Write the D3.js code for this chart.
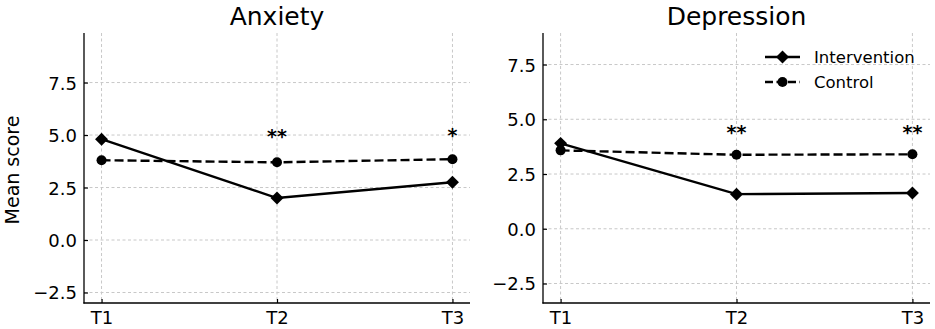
<!DOCTYPE html>
<html>
<head>
<meta charset="utf-8">
<script src="https://cdn.jsdelivr.net/npm/d3@7"></script>
<style>
  body { margin: 0; background: #fff; }
  svg text { font-family: "DejaVu Sans", sans-serif; fill: #000; }
</style>
</head>
<body>
<div id="chart"></div>
<script>
// data
var timepoints = ['T1', 'T2', 'T3'];
var yTicks = [-2.5, 0, 2.5, 5, 7.5];

var anxietyIntervention = [4.8, 2.0, 2.75];
var anxietyControl = [3.8, 3.7, 3.85];
var anxietyStars = ['', '**', '*'];
var anxietyStarY = [null, 4.6, 4.67];

var depressionIntervention = [3.9, 1.58, 1.63];
var depressionControl = [3.58, 3.38, 3.4];
var depressionStars = ['', '**', '**'];
var depressionStarY = [null, 4.08, 4.08];

var legendItems = ['Intervention', 'Control'];

var W = 935, H = 329;

var svg = d3.select('#chart').append('svg')
    .attr('width', W)
    .attr('height', H);

function drawPanel(opts) {
    var x = d3.scaleLinear().domain([-0.1, 2.1]).range([opts.left, opts.right]);
    var y = d3.scaleLinear().domain(opts.yDomain).range([303, 33]);
    var g = svg.append('g');

    // grid
    g.selectAll('.vgrid').data(timepoints).enter().append('line')
        .attr('x1', function(d, i) { return x(i); })
        .attr('x2', function(d, i) { return x(i); })
        .attr('y1', 33).attr('y2', 303)
        .attr('stroke', '#c8c8c8').attr('stroke-width', 1)
        .attr('stroke-dasharray', '3,2.5');
    g.selectAll('.hgrid').data(yTicks).enter().append('line')
        .attr('x1', opts.left).attr('x2', opts.right)
        .attr('y1', function(d) { return y(d); })
        .attr('y2', function(d) { return y(d); })
        .attr('stroke', '#c8c8c8').attr('stroke-width', 1)
        .attr('stroke-dasharray', '3,2.5');

    // axes, ticks pointing inward
    var yAxis = g.append('g')
        .attr('transform', 'translate(' + opts.left + ',0)')
        .call(d3.axisRight(y).tickValues(yTicks).tickSize(4).tickFormat(function(d) {
            return d3.format('.1f')(d).replace('-', '\u2212');
        }));
    yAxis.select('.domain').remove();
    yAxis.selectAll('text')
        .attr('x', -7).attr('text-anchor', 'end')
        .attr('dy', '0.36em')
        .style('font-size', '18px');

    var xAxis = g.append('g')
        .attr('transform', 'translate(0,303)')
        .call(d3.axisTop(x).tickValues([0, 1, 2]).tickSize(4)
            .tickFormat(function(d) { return timepoints[d]; }));
    xAxis.select('.domain').remove();
    xAxis.selectAll('text')
        .attr('y', 21).attr('dy', 0)
        .style('font-size', '18px');
    g.selectAll('.tick line').attr('stroke', '#000').attr('stroke-width', 1.2);

    g.append('line')
        .attr('x1', opts.left).attr('x2', opts.left)
        .attr('y1', 33).attr('y2', 303.6)
        .attr('stroke', '#000').attr('stroke-width', 1.3);
    g.append('line')
        .attr('x1', opts.left - 0.6).attr('x2', opts.right)
        .attr('y1', 303).attr('y2', 303)
        .attr('stroke', '#000').attr('stroke-width', 1.3);

    // lines
    var line = d3.line()
        .x(function(d, i) { return x(i); })
        .y(function(d) { return y(d); });

    g.append('path').datum(opts.control)
        .attr('fill', 'none').attr('stroke', '#000')
        .attr('stroke-width', 2.4)
        .attr('stroke-dasharray', '9,4')
        .attr('d', line);
    g.append('path').datum(opts.intervention)
        .attr('fill', 'none').attr('stroke', '#000')
        .attr('stroke-width', 2.4)
        .attr('d', line);

    g.selectAll('.ctrl').data(opts.control).enter().append('circle')
        .attr('cx', function(d, i) { return x(i); })
        .attr('cy', function(d) { return y(d); })
        .attr('r', 5).attr('fill', '#000');

    var diamond = d3.symbol().type(d3.symbolSquare).size(84);
    g.selectAll('.intv').data(opts.intervention).enter().append('path')
        .attr('d', diamond)
        .attr('transform', function(d, i) {
            return 'translate(' + x(i) + ',' + y(d) + ') rotate(45)';
        })
        .attr('fill', '#000');

    // significance stars
    opts.stars.forEach(function(s, i) {
        if (!s) return;
        g.append('text')
            .attr('x', x(i))
            .attr('y', y(opts.starY[i]))
            .attr('text-anchor', 'middle')
            .style('font-size', '19px')
            .style('font-weight', 'bold')
            .text(s);
    });

    // title
    g.append('text')
        .attr('x', (opts.left + opts.right) / 2)
        .attr('y', 25)
        .attr('text-anchor', 'middle')
        .style('font-size', '25px')
        .text(opts.title);
}

drawPanel({
    title: 'Anxiety', left: 84, right: 470, yDomain: [-3.0, 9.86],
    intervention: anxietyIntervention, control: anxietyControl,
    stars: anxietyStars, starY: anxietyStarY
});
drawPanel({
    title: 'Depression', left: 543, right: 930, yDomain: [-3.39, 8.94],
    intervention: depressionIntervention, control: depressionControl,
    stars: depressionStars, starY: depressionStarY
});

// y label
svg.append('text')
    .attr('transform', 'translate(19,170) rotate(-90)')
    .attr('text-anchor', 'middle')
    .style('font-size', '19px')
    .text('Mean score');

// legend
var legend = svg.append('g').attr('transform', 'translate(765,0)');
legendItems.forEach(function(name, i) {
    var ly = 57 + i * 25;
    legend.append('line')
        .attr('x1', 0).attr('x2', 35)
        .attr('y1', ly).attr('y2', ly)
        .attr('stroke', '#000').attr('stroke-width', 2.4)
        .attr('stroke-dasharray', i === 1 ? '8,3.5' : null);
    if (i === 0) {
        legend.append('path')
            .attr('d', d3.symbol().type(d3.symbolSquare).size(84))
            .attr('transform', 'translate(17.5,' + ly + ') rotate(45)')
            .attr('fill', '#000');
    } else {
        legend.append('circle')
            .attr('cx', 17.5).attr('cy', ly).attr('r', 5).attr('fill', '#000');
    }
    legend.append('text')
        .attr('x', 49).attr('y', ly)
        .attr('dy', '0.36em')
        .style('font-size', '16.5px')
        .text(name);
});
</script>
</body>
</html>
